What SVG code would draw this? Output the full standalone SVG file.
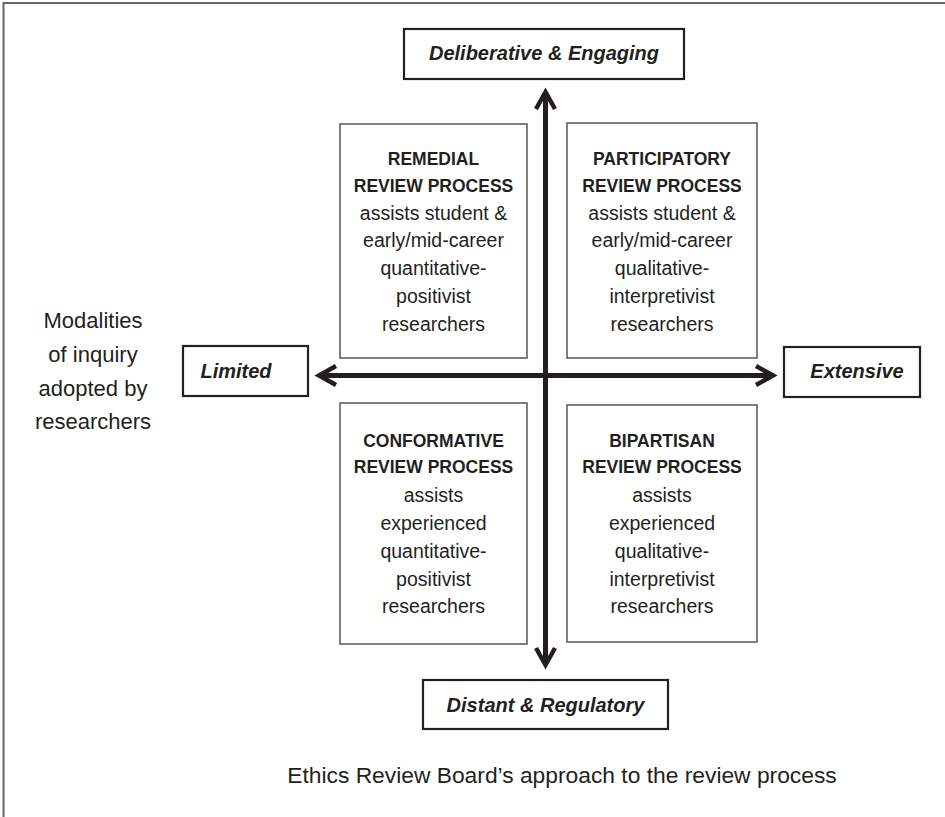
<svg xmlns="http://www.w3.org/2000/svg" width="945" height="817" viewBox="0 0 945 817">
<style>
  .frame{fill:none;stroke:#666;stroke-width:2}
  .qbox{fill:#fff;stroke:#555;stroke-width:1.5}
  .lbox{fill:#fff;stroke:#231f20;stroke-width:2.2}
  text{font-family:"Liberation Sans",Arial,sans-serif;fill:#231f20;text-anchor:middle}
  .h{font-weight:bold;font-size:17.5px}
  .r{font-size:19.5px}
  .lab{font-weight:bold;font-style:italic;font-size:20px}
  .side{font-size:22px}
  .cap{font-size:22.8px}
  .axis{fill:none;stroke:#231f20;stroke-width:5}
  .head{fill:none;stroke:#231f20;stroke-width:4.5;stroke-linecap:butt;stroke-linejoin:miter}
</style>
<rect width="945" height="817" fill="#fff"/>
<path class="frame" d="M3.5,817 V3 H945"/>

<g id="connectors">
  <line class="axis" x1="545.5" y1="94" x2="545.5" y2="663"/>
  <line class="axis" x1="321" y1="375.5" x2="771" y2="375.5"/>
  <polyline class="head" points="536,109 545.5,92 555,109"/>
  <polyline class="head" points="536,648 545.5,665 555,648"/>
  <polyline class="head" points="336,366 319,375.5 336,385"/>
  <polyline class="head" points="756,366 773,375.5 756,385"/>
</g>

<g id="top-label">
  <rect class="lbox" x="404" y="29" width="280" height="50"/>
  <text class="lab" x="544" y="60">Deliberative &amp; Engaging</text>
</g>
<g id="bottom-label">
  <rect class="lbox" x="423" y="680" width="245" height="49"/>
  <text class="lab" x="545.5" y="712">Distant &amp; Regulatory</text>
</g>
<g id="left-label">
  <rect class="lbox" x="183" y="346" width="125" height="50"/>
  <text class="lab" x="236" y="378">Limited</text>
</g>
<g id="right-label">
  <rect class="lbox" x="784" y="347" width="136" height="50"/>
  <text class="lab" x="857" y="378">Extensive</text>
</g>

<g id="remedial">
  <rect class="qbox" x="340" y="124" width="187" height="234"/>
  <text class="h" x="433.5" y="165">REMEDIAL</text>
  <text class="h" x="433.5" y="192">REVIEW PROCESS</text>
  <text class="r" x="433.5" y="220">assists student &amp;</text>
  <text class="r" x="433.5" y="247">early/mid-career</text>
  <text class="r" x="433.5" y="275">quantitative-</text>
  <text class="r" x="433.5" y="303">positivist</text>
  <text class="r" x="433.5" y="331">researchers</text>
</g>
<g id="participatory">
  <rect class="qbox" x="567" y="123" width="190" height="235"/>
  <text class="h" x="662" y="165">PARTICIPATORY</text>
  <text class="h" x="662" y="192">REVIEW PROCESS</text>
  <text class="r" x="662" y="220">assists student &amp;</text>
  <text class="r" x="662" y="247">early/mid-career</text>
  <text class="r" x="662" y="275">qualitative-</text>
  <text class="r" x="662" y="303">interpretivist</text>
  <text class="r" x="662" y="331">researchers</text>
</g>
<g id="conformative">
  <rect class="qbox" x="340" y="403" width="187" height="241"/>
  <text class="h" x="433.5" y="447">CONFORMATIVE</text>
  <text class="h" x="433.5" y="473">REVIEW PROCESS</text>
  <text class="r" x="433.5" y="502">assists</text>
  <text class="r" x="433.5" y="530">experienced</text>
  <text class="r" x="433.5" y="558">quantitative-</text>
  <text class="r" x="433.5" y="586">positivist</text>
  <text class="r" x="433.5" y="613">researchers</text>
</g>
<g id="bipartisan">
  <rect class="qbox" x="567" y="405" width="190" height="237"/>
  <text class="h" x="662" y="447">BIPARTISAN</text>
  <text class="h" x="662" y="473">REVIEW PROCESS</text>
  <text class="r" x="662" y="502">assists</text>
  <text class="r" x="662" y="530">experienced</text>
  <text class="r" x="662" y="558">qualitative-</text>
  <text class="r" x="662" y="586">interpretivist</text>
  <text class="r" x="662" y="613">researchers</text>
</g>

<g id="modalities">
  <text class="side" x="93" y="328">Modalities</text>
  <text class="side" x="93" y="362">of inquiry</text>
  <text class="side" x="93" y="396">adopted by</text>
  <text class="side" x="93" y="429">researchers</text>
</g>
<g id="caption">
  <text class="cap" x="562" y="783">Ethics Review Board’s approach to the review process</text>
</g>
</svg>
